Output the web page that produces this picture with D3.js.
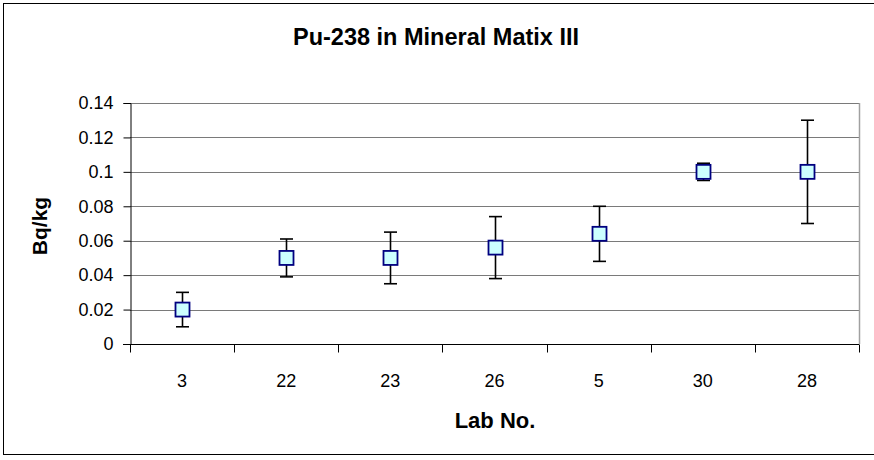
<!DOCTYPE html>
<html>
<head>
<meta charset="utf-8">
<script src="https://cdn.jsdelivr.net/npm/d3@7"></script>
<style>
  html, body { margin: 0; padding: 0; background: #fff; }
  svg { display: block; font-family: "Liberation Sans", Arial, sans-serif; }
</style>
</head>
<body>
<svg id="chart" width="874" height="460"></svg>
<script>
const labs = ["3", "22", "23", "26", "5", "30", "28"];
const values = [0.020, 0.050, 0.050, 0.056, 0.064, 0.100, 0.100];
const errLow = [0.010, 0.039, 0.035, 0.038, 0.048, 0.095, 0.070];
const errHigh = [0.030, 0.061, 0.065, 0.074, 0.080, 0.105, 0.130];
const yTicks = [0, 0.02, 0.04, 0.06, 0.08, 0.1, 0.12, 0.14];
const titleText = "Pu-238 in Mineral Matix III";
const xTitle = "Lab No.";
const yTitle = "Bq/kg";

const svg = d3.select("#chart");
const m = { left: 130, right: 859, top: 103, bottom: 344 };

// outer chart border
svg.append("rect")
  .attr("x", 3.5).attr("y", 3.5)
  .attr("width", 900).attr("height", 451)
  .attr("fill", "#fff").attr("stroke", "#000").attr("stroke-width", 1);

const x = d3.scaleBand().domain(labs).range([m.left, m.right]).padding(0);
const y = d3.scaleLinear().domain([0, 0.14]).range([m.bottom, m.top]);

// gridlines
svg.append("g").selectAll("line").data(yTicks.filter(d => d > 0)).join("line")
  .attr("x1", m.left).attr("x2", m.right)
  .attr("y1", d => Math.round(y(d)) + 0.5).attr("y2", d => Math.round(y(d)) + 0.5)
  .attr("stroke", "#7a7a7a").attr("stroke-width", 1);

// plot area border (right side)
svg.append("line")
  .attr("x1", m.right + 0.5).attr("x2", m.right + 0.5)
  .attr("y1", m.top).attr("y2", m.bottom)
  .attr("stroke", "#a0a0a0").attr("stroke-width", 1.5);

// y axis
const yAxis = d3.axisLeft(y).tickValues(yTicks).tickSize(7).tickPadding(10)
  .tickFormat(d => d3.format("~g")(d));
const gy = svg.append("g").attr("transform", `translate(${m.left + 0.5},0)`).call(yAxis);
gy.select(".domain").attr("stroke", "#000");
gy.selectAll(".tick line").attr("stroke", "#000");
gy.selectAll(".tick text").attr("font-size", 18).attr("fill", "#000")
  .attr("font-family", "Liberation Sans, Arial, sans-serif");

// x axis with ticks at category boundaries
const gx = svg.append("g").attr("transform", `translate(0,${m.bottom + 0.5})`);
gx.append("line").attr("x1", m.left - 7).attr("x2", m.right).attr("y1", 0).attr("y2", 0)
  .attr("stroke", "#000");
const bounds = labs.map(d => x(d)).concat([x(labs[labs.length - 1]) + x.bandwidth()]);
gx.selectAll("line.tk").data(bounds).join("line").attr("class", "tk")
  .attr("x1", d => Math.round(d) + 0.5).attr("x2", d => Math.round(d) + 0.5)
  .attr("y1", 0).attr("y2", 8).attr("stroke", "#000");
gx.selectAll("text").data(labs).join("text")
  .attr("x", d => x(d) + x.bandwidth() / 2)
  .attr("y", 42)
  .attr("text-anchor", "middle")
  .attr("font-size", 18).attr("fill", "#000")
  .text(d => d);

// error bars
const eb = svg.append("g");
labs.forEach((lab, i) => {
  const cx = Math.round(x(lab) + x.bandwidth() / 2) + 0.5;
  eb.append("line").attr("x1", cx).attr("x2", cx)
    .attr("y1", y(errLow[i])).attr("y2", y(errHigh[i]))
    .attr("stroke", "#000").attr("stroke-width", 1.6);
  [errLow[i], errHigh[i]].forEach(v => {
    eb.append("line").attr("x1", cx - 6.5).attr("x2", cx + 6.5)
      .attr("y1", y(v)).attr("y2", y(v))
      .attr("stroke", "#000").attr("stroke-width", 1.6);
  });
});

// markers
svg.append("g").selectAll("rect").data(labs).join("rect")
  .attr("x", (d) => Math.round(x(d) + x.bandwidth() / 2) + 0.5 - 7)
  .attr("y", (d, i) => y(values[i]) - 7)
  .attr("width", 14).attr("height", 14)
  .attr("fill", "#CCFFFF").attr("stroke", "#000080").attr("stroke-width", 1.8);

// titles
svg.append("text").attr("x", 436).attr("y", 45)
  .attr("text-anchor", "middle").attr("font-weight", "bold").attr("font-size", 23.5)
  .text(titleText);
svg.append("text").attr("x", 495).attr("y", 428)
  .attr("text-anchor", "middle").attr("font-weight", "bold").attr("font-size", 22)
  .text(xTitle);
svg.append("text")
  .attr("transform", `translate(47,226) rotate(-90)`)
  .attr("text-anchor", "middle").attr("font-weight", "bold").attr("font-size", 21)
  .text(yTitle);
</script>
</body>
</html>
